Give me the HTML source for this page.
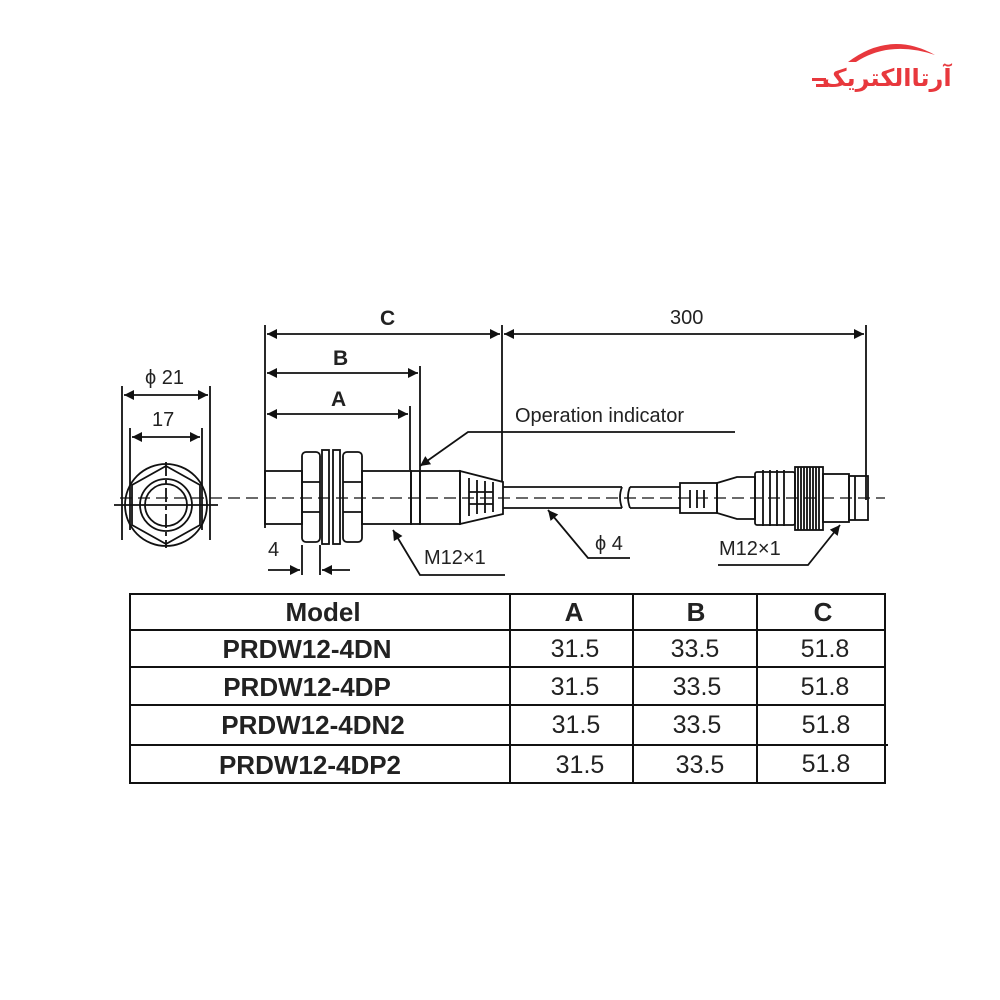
<!DOCTYPE html>
<html><head><meta charset="utf-8"><style>
html,body{margin:0;padding:0;background:#fff;width:1000px;height:1000px;overflow:hidden}
svg{display:block}
text{font-family:"Liberation Sans",sans-serif;fill:#222}
</style></head><body>
<svg width="1000" height="1000" viewBox="0 0 1000 1000" xmlns="http://www.w3.org/2000/svg">
<defs>
<marker id="ar" viewBox="0 0 10 10" refX="10" refY="5" markerWidth="18" markerHeight="10" orient="auto-start-reverse" markerUnits="userSpaceOnUse"><path d="M0,0 L10,5 L0,10 z" fill="#111"/></marker>
</defs>
<!-- logo -->
<g fill="#e8383d">
<path d="M848,62 Q890,30 935,55 Q890,40 856,62 z"/>
<text x="822" y="86" font-size="24" font-weight="bold" style="fill:#e8383d;font-family:'DejaVu Sans',sans-serif">آرتاالکتریک</text>
<rect x="812" y="78" width="14" height="3"/><rect x="816" y="84" width="12" height="3"/>
</g>
<g stroke="#111" stroke-width="1.8" fill="none">
<!-- left view -->
<line x1="122" y1="386" x2="122" y2="540"/><line x1="210" y1="386" x2="210" y2="540"/>
<line x1="130" y1="428" x2="130" y2="530"/><line x1="202" y1="428" x2="202" y2="530"/>
<line x1="124" y1="395" x2="208" y2="395" marker-start="url(#ar)" marker-end="url(#ar)"/>
<line x1="132" y1="437" x2="200" y2="437" marker-start="url(#ar)" marker-end="url(#ar)"/>
<circle cx="166" cy="505" r="41"/>
<polygon points="166,466 200,485 200,525 166,544 132,525 132,485"/>
<circle cx="166" cy="505" r="26"/><circle cx="166" cy="505" r="21"/>
<line x1="114" y1="505" x2="218" y2="505"/>
<line x1="166" y1="462" x2="166" y2="548" stroke-dasharray="14 4 4 4"/>
<!-- dimensions -->
<line x1="265" y1="325" x2="265" y2="528"/>
<line x1="502" y1="325" x2="502" y2="482"/>
<line x1="866" y1="325" x2="866" y2="500"/>
<line x1="420" y1="366" x2="420" y2="470"/>
<line x1="410" y1="406" x2="410" y2="470"/>
<line x1="267" y1="334" x2="500" y2="334" marker-start="url(#ar)" marker-end="url(#ar)"/>
<line x1="504" y1="334" x2="864" y2="334" marker-start="url(#ar)" marker-end="url(#ar)"/>
<line x1="267" y1="373" x2="418" y2="373" marker-start="url(#ar)" marker-end="url(#ar)"/>
<line x1="267" y1="414" x2="408" y2="414" marker-start="url(#ar)" marker-end="url(#ar)"/>
<!-- body -->
<rect x="265" y="471" width="37" height="53"/>
<rect x="302" y="452" width="18" height="90" rx="4"/>
<rect x="343" y="452" width="19" height="90" rx="4"/>
<line x1="302" y1="482" x2="320" y2="482"/><line x1="302" y1="512" x2="320" y2="512"/>
<line x1="343" y1="482" x2="362" y2="482"/><line x1="343" y1="512" x2="362" y2="512"/>
<rect x="322" y="450" width="7" height="94"/><rect x="333" y="450" width="7" height="94"/>
<rect x="362" y="471" width="49" height="53"/>
<rect x="411" y="471" width="9" height="53"/>
<rect x="420" y="471" width="40" height="53"/>
<path d="M460,471 L503,482 L503,514 L460,524 z"/>
<path d="M469,478 v38 M477,480 v34 M485,481 v32 M493,482 v30 M469,492 h24 M469,504 h24"/>
<line x1="302" y1="545" x2="302" y2="575"/><line x1="320" y1="545" x2="320" y2="575"/>
<line x1="268" y1="570" x2="300" y2="570" marker-end="url(#ar)"/>
<line x1="350" y1="570" x2="322" y2="570" marker-end="url(#ar)"/>
<!-- cable -->
<path d="M503,487 H622 M503,508 H622 M630,487 H680 M630,508 H680"/>
<path d="M622,487 q-4,10 0,21 M630,487 q-4,10 0,21"/>
<!-- right connector -->
<rect x="680" y="483" width="37" height="30"/>
<path d="M690,490 v18 M697,490 v18 M704,490 v18"/>
<path d="M717,483 L737,477 H755 V519 H737 L717,513 z"/>
<rect x="755" y="472" width="40" height="53" rx="2"/>
<path d="M763,470 v56 M770,470 v56 M777,470 v56 M784,470 v56"/>
<rect x="795" y="467" width="28" height="63"/>
<path d="M798,467 v63 M801,467 v63 M804,467 v63 M807,467 v63 M810,467 v63 M813,467 v63 M816,467 v63 M819,467 v63"/>
<rect x="823" y="474" width="26" height="48"/>
<rect x="849" y="476" width="19" height="44"/>
<line x1="855" y1="476" x2="855" y2="520"/>
<!-- center line -->
<line x1="120" y1="498" x2="885" y2="498" stroke-dasharray="12 6" stroke-width="1.3"/>
<!-- leaders -->
<path d="M735,432 H468 L420,466" marker-end="url(#ar)"/>
<path d="M505,575 H420 L393,530" marker-end="url(#ar)"/>
<path d="M630,558 H588 L548,510" marker-end="url(#ar)"/>
<path d="M718,565 H808 L840,525" marker-end="url(#ar)"/>
</g>
<g font-size="20">
<text x="380" y="325" font-weight="bold" font-size="21">C</text>
<text x="670" y="324">300</text>
<text x="333" y="365" font-weight="bold" font-size="21">B</text>
<text x="331" y="406" font-weight="bold" font-size="21">A</text>
<text x="145" y="384">ϕ 21</text>
<text x="152" y="426">17</text>
<text x="515" y="422">Operation indicator</text>
<text x="424" y="564">M12×1</text>
<text x="595" y="550">ϕ 4</text>
<text x="719" y="555">M12×1</text>
<text x="268" y="556">4</text>
</g>
<!-- table -->
<g stroke="#111" stroke-width="2" fill="none">
<rect x="130" y="594" width="755" height="189"/>
<line x1="130" y1="630" x2="885" y2="630"/>
<line x1="130" y1="667" x2="885" y2="667"/>
<line x1="130" y1="705" x2="885" y2="705"/>
<line x1="130" y1="745" x2="888" y2="745"/>
<line x1="510" y1="594" x2="510" y2="783"/>
<line x1="633" y1="594" x2="633" y2="783"/>
<line x1="757" y1="594" x2="757" y2="783"/>
</g>
<g font-size="25" text-anchor="middle">
<text x="323" y="621" font-weight="bold" font-size="26">Model</text>
<text x="574" y="621" font-weight="bold" font-size="26">A</text>
<text x="696" y="621" font-weight="bold" font-size="26">B</text>
<text x="823" y="621" font-weight="bold" font-size="26">C</text>
<g font-weight="bold" font-size="26">
<text x="307" y="658">PRDW12-4DN</text>
<text x="307" y="696">PRDW12-4DP</text>
<text x="313" y="734">PRDW12-4DN2</text>
<text x="310" y="774">PRDW12-4DP2</text>
</g>
<text x="575" y="657">31.5</text><text x="695" y="657">33.5</text><text x="825" y="657">51.8</text>
<text x="575" y="695">31.5</text><text x="697" y="695">33.5</text><text x="825" y="695">51.8</text>
<text x="576" y="733">31.5</text><text x="697" y="733">33.5</text><text x="826" y="733">51.8</text>
<text x="580" y="773">31.5</text><text x="700" y="773">33.5</text><text x="826" y="772">51.8</text>
</g>
</svg>
</body></html>
